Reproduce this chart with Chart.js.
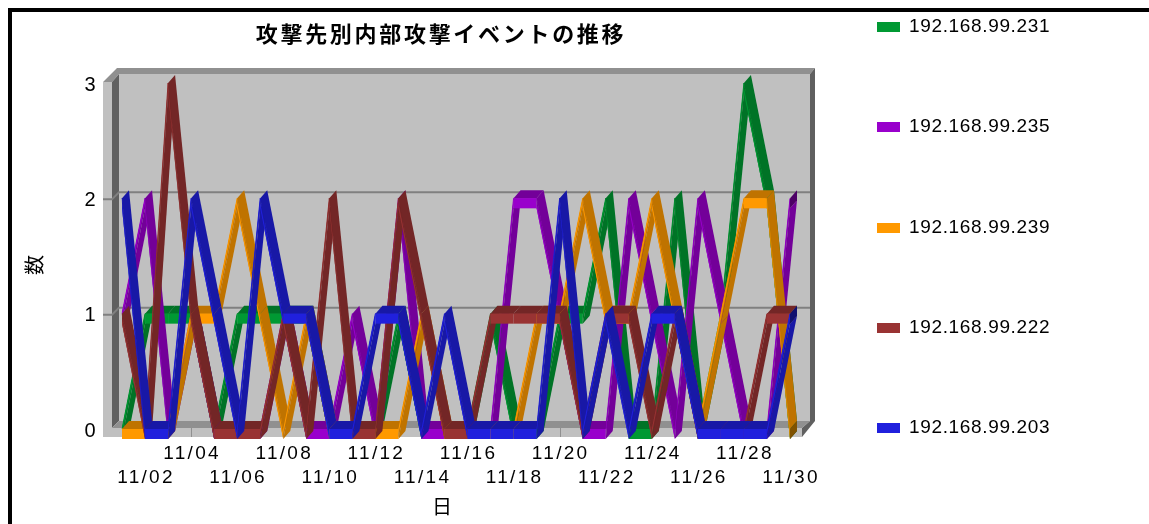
<!DOCTYPE html>
<html><head><meta charset="utf-8">
<script src="https://cdn.jsdelivr.net/npm/chart.js@4"></script>
<style>
html,body{margin:0;padding:0;background:#fff;overflow:hidden;width:1149px;height:524px}
#frame{position:absolute;left:8px;top:8px;width:2000px;height:2000px;border:4px solid #000}
canvas{position:absolute;left:0;top:0}
</style></head><body>
<div id="frame"></div>
<canvas id="c" width="1149" height="524"></canvas>
<script>
const days = ['11/01','11/02','11/03','11/04','11/05','11/06','11/07','11/08','11/09','11/10','11/11','11/12','11/13','11/14','11/15','11/16','11/17','11/18','11/19','11/20','11/21','11/22','11/23','11/24','11/25','11/26','11/27','11/28','11/29','11/30'];
const ip231 = [0,1,1,1,0,1,1,1,1,0,0,0,1,0,0,0,1,0,0,1,1,2,0,0,2,0,1,3,2,0];
const ip235 = [1,2,0,1,0,0,0,1,0,0,1,0,2,0,0,0,0,2,2,1,0,0,2,1,0,2,1,0,0,2];
const ip239 = [0,0,0,1,1,2,1,0,1,0,0,0,0,1,0,0,0,0,1,1,2,1,1,2,1,0,1,2,2,0];
const ip222 = [1,0,3,1,0,0,0,1,0,2,0,0,2,1,0,0,1,1,1,1,0,1,1,0,1,0,0,0,1,1];
const ip203 = [2,0,0,2,1,0,2,1,1,0,0,1,1,0,1,0,0,0,0,2,0,1,0,1,1,0,0,0,0,1];
const seriesNames = ['192.168.99.231','192.168.99.235','192.168.99.239','192.168.99.222','192.168.99.203'];
const seriesValues = [ip231,ip235,ip239,ip222,ip203];
const front = ['#009933','#9900cc','#ff9900','#993333','#2020dd'];
const side  = ['#007326','#730099','#bf7300','#732626','#1818a6'];
const cap   = ['#004d1a','#4d0066','#805200','#4d1a1a','#101070'];
const chartTitle = '攻撃先別内部攻撃イベントの推移';
const yTitle = '数', xTitle = '日';

const DX = 7, DY = -8, H = 10, SLIVER = 5;
const LATIN = '"Liberation Sans", "Noto Sans CJK JP", sans-serif';
const CJK = '"Noto Sans CJK JP", sans-serif';

function poly(ctx, pts, fill){
  ctx.fillStyle = fill; ctx.beginPath();
  pts.forEach((p,i)=> i ? ctx.lineTo(p[0],p[1]) : ctx.moveTo(p[0],p[1]));
  ctx.closePath(); ctx.fill();
}

const walls = {
  id:'walls',
  beforeDraw(chart){
    const c = chart.ctx, a = chart.chartArea, y = chart.scales.y, x = chart.scales.x;
    const L=a.left, T=a.top, B=a.bottom-1;
    const wallL=L-3, wallR=810, wallT=T-9, wallB=B-7;
    const outerL=L-19, midL=L-10, outB=B+9, frontR=802, topY=wallT-6;
    c.save();
    poly(c,[[wallL,wallT],[wallR,wallT],[wallR,wallB],[wallL,wallB]],'#c0c0c0');
    poly(c,[[outerL,T-1],[midL,T-1],[midL,outB],[outerL,outB]],'#c0c0c0');
    poly(c,[[outerL,B],[frontR,B],[frontR,outB],[outerL,outB]],'#c0c0c0');
    poly(c,[[outerL,T-1],[outerL+14,topY],[815,topY],[wallR,wallT],[wallL,wallT],[midL,T-1]],'#909090');
    poly(c,[[midL,T-1],[wallL,wallT],[wallL,wallB],[midL,B]],'#606060');
    poly(c,[[midL,B],[wallL,wallB],[wallR,wallB],[frontR,B]],'#909090');
    poly(c,[[wallR,wallT],[815,topY],[815,wallB],[frontR,outB],[frontR,B],[wallR,wallB]],'#606060');
    c.strokeStyle='#808080'; c.lineWidth=2;
    [1,2].forEach(v=>{
      const py=y.getPixelForValue(v);
      c.beginPath(); c.moveTo(outerL,py+1); c.lineTo(midL,py+1); c.lineTo(wallL,py-6); c.lineTo(wallR,py-6); c.stroke();
    });
    c.lineWidth=1; c.strokeStyle='#909090';
    days.forEach((d,i)=>{
      if(i%4===3){ const px=Math.round(x.getPixelForValue(i))+.5; c.beginPath(); c.moveTo(px,B); c.lineTo(px,outB); c.stroke(); }
    });
    c.fillStyle='#000'; c.textAlign='center'; c.textBaseline='middle';
    c.font='bold 22px '+CJK; c.letterSpacing='2.7px';
    c.fillText(chartTitle,441,34);
    c.letterSpacing='0px';
    c.font='20px '+CJK;
    c.fillText(xTitle,442,506);
    c.save(); c.translate(34,265); c.rotate(-Math.PI/2); c.fillText(yTitle,0,0); c.restore();
    c.textAlign='left'; c.font='19px '+LATIN; c.letterSpacing='0.65px';
    const legendY=[27,127,228,328,428];
    seriesNames.forEach((n,i)=>{
      c.fillStyle=front[i]; c.fillRect(877,legendY[i]-5,23,10);
      c.fillStyle='#000'; c.fillText(n,909,legendY[i]);
    });
    c.restore();
    c.letterSpacing='2.3px';
  },
  afterDatasetDraw(chart,args){
    const c=chart.ctx, pts=args.meta.data, i=args.index;
    c.save();
    for(let k=0;k<pts.length-1;k++){
      const a=pts[k], b=pts[k+1];
      const frontQuad=[[a.x,a.y],[b.x,b.y],[b.x,b.y+H],[a.x,a.y+H]];
      if(a.y===b.y){
        poly(c,[[a.x,a.y],[b.x,b.y],[b.x+DX,b.y+DY],[a.x+DX,a.y+DY]],side[i]);
        poly(c,frontQuad,front[i]);
      } else if(b.y<a.y){
        poly(c,[[a.x,a.y+H],[b.x,b.y+H],[b.x+DX,b.y+H+DY],[a.x+DX,a.y+H+DY]],side[i]);
        poly(c,frontQuad,side[i]);
        poly(c,[[a.x,a.y],[b.x,b.y],[b.x,b.y+SLIVER],[a.x,a.y+SLIVER]],front[i]);
      } else {
        poly(c,[[a.x,a.y],[b.x,b.y],[b.x+DX,b.y+DY],[a.x+DX,a.y+DY]],side[i]);
        poly(c,frontQuad,side[i]);
        poly(c,[[a.x,a.y+H-SLIVER],[b.x,b.y+H-SLIVER],[b.x,b.y+H],[a.x,a.y+H]],front[i]);
      }
    }
    const e=pts[pts.length-1];
    poly(c,[[e.x,e.y],[e.x,e.y+H],[e.x+DX,e.y+H+DY],[e.x+DX,e.y+DY]],cap[i]);
    c.restore();
  }
};

new Chart(document.getElementById('c'),{
  type:'line',
  plugins:[walls],
  data:{
    labels:days,
    datasets:seriesNames.map((n,i)=>({
      label:n, data:seriesValues[i], order:5-i,
      borderColor:front[i], backgroundColor:front[i],
      borderWidth:1, pointRadius:0, tension:0, fill:false
    }))
  },
  options:{
    responsive:false, animation:false,
    layout:{padding:{left:12,top:83,right:359,bottom:0}},
    plugins:{legend:{display:false},title:{display:false},tooltip:{enabled:false}},
    scales:{
      x:{
        type:'category', offset:false,
        grid:{display:false,drawTicks:false}, border:{display:false},
        afterFit(s){ s.height=95; },
        ticks:{
          autoSkip:false,maxRotation:0,minRotation:0,padding:12,labelOffset:1,color:'#000',
          font:{family:LATIN,size:19,lineHeight:1.3},
          callback(v,i){ return i%4===1 ? ['',days[i]] : i%4===3 ? [days[i],''] : ''; }
        }
      },
      y:{
        min:0,max:3,
        grid:{display:false,drawTicks:false}, border:{display:false},
        afterFit(s){ s.width=110; },
        ticks:{stepSize:1,padding:24,labelOffset:2,color:'#000',font:{family:LATIN,size:20},
          callback(v){ return Number.isInteger(v)?String(v):''; }}
      }
    }
  }
});
</script>
</body></html>
